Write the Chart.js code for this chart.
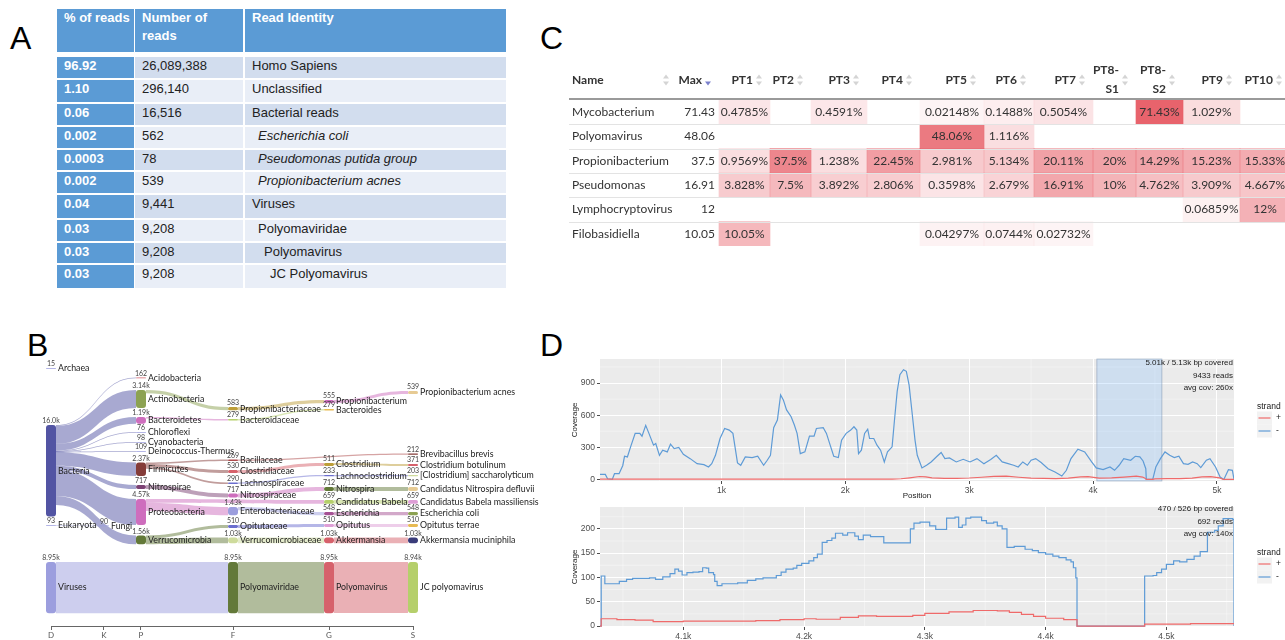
<!DOCTYPE html>
<html>
<head>
<meta charset="utf-8">
<script src="https://cdn.jsdelivr.net/npm/chart.js@4.4.1/dist/chart.umd.min.js"></script>
<style>
  body { margin: 0; background: #fff; }
  #page { position: relative; width: 1285px; height: 640px; overflow: hidden; background: #fff;
          font-family: "Liberation Sans", Arial, sans-serif; }
  .letter { position: absolute; font: 32px/32px "Liberation Sans", Arial, sans-serif; color: #000; }
  .cellA { position: absolute; box-sizing: border-box; font-size: 13px; line-height: 16px;
           padding: 1px 0 0 7px; color: #222; white-space: nowrap; }
  canvas { position: absolute; }
</style>
</head>
<body>
<div id="page">
  <div class="letter" style="left:10px;top:22px">A</div>
  <div class="letter" style="left:27px;top:329px">B</div>
  <div class="letter" style="left:540px;top:22px">C</div>
  <div class="letter" style="left:540px;top:329px">D</div>
  <div id="tableA"></div>
  <canvas id="chartB" width="560" height="285" style="left:0;top:355px"></canvas>
  <canvas id="chartC" width="725" height="200" style="left:560px;top:55px"></canvas>
  <canvas id="chartD1" width="725" height="165" style="left:560px;top:340px"></canvas>
  <canvas id="chartD2" width="725" height="143" style="left:560px;top:497px"></canvas>
</div>
<script>
// ======================================================================
//  DATA
// ======================================================================

// ---- A: read summary ----
const readPct      = ['96.92', '1.10', '0.06', '0.002', '0.0003', '0.002', '0.04', '0.03', '0.03', '0.03'];
const readCount    = ['26,089,388', '296,140', '16,516', '562', '78', '539', '9,441', '9,208', '9,208', '9,208'];
const readIdentity = ['Homo Sapiens', 'Unclassified', 'Bacterial reads', 'Escherichia coli',
                      'Pseudomonas putida group', 'Propionibacterium acnes', 'Viruses',
                      'Polyomaviridae', 'Polyomavirus', 'JC Polyomavirus'];
const identityLevel  = [0, 0, 0, 1, 1, 1, 0, 1, 2, 3];
const identityItalic = [false, false, false, true, true, true, false, false, false, false];
const headersA = ['% of reads', 'Number of<br>reads', 'Read Identity'];

// ---- B: sankey ----
const rankLabels = ['D', 'K', 'P', 'F', 'G', 'S'];
const sankeyNodes = [
  'Archaea', 'Bacteria', 'Eukaryota', 'Fungi',
  'Acidobacteria', 'Actinobacteria', 'Bacteroidetes', 'Chloroflexi', 'Cyanobacteria',
  'Deinococcus-Thermus', 'Firmicutes', 'Nitrospirae', 'Proteobacteria', 'Verrucomicrobia',
  'Propionibacteriaceae', 'Bacteroidaceae', 'Bacillaceae', 'Clostridiaceae', 'Lachnospiraceae',
  'Nitrospiraceae', 'Enterobacteriaceae', 'Opitutaceae', 'Verrucomicrobiaceae',
  'Propionibacterium', 'Bacteroides', 'Clostridium', 'Lachnoclostridium', 'Nitrospira',
  'Candidatus Babela', 'Escherichia', 'Opitutus', 'Akkermansia',
  'Propionibacterium acnes', 'Brevibacillus brevis', 'Clostridium botulinum',
  '[Clostridium] saccharolyticum', 'Candidatus Nitrospira defluvii',
  'Candidatus Babela massiliensis', 'Escherichia coli', 'Opitutus terrae', 'Akkermansia muciniphila',
  'Viruses', 'Polyomaviridae', 'Polyomavirus', 'JC polyomavirus'
];
const sankeyRank = [
  'D', 'D', 'D', 'K',
  'P', 'P', 'P', 'P', 'P', 'P', 'P', 'P', 'P', 'P',
  'F', 'F', 'F', 'F', 'F', 'F', 'F', 'F', 'F',
  'G', 'G', 'G', 'G', 'G', 'G', 'G', 'G', 'G',
  'S', 'S', 'S', 'S', 'S', 'S', 'S', 'S', 'S',
  'D', 'F', 'G', 'S'
];
const sankeyReads = [
  15, 16000, 93, 90,
  162, 3140, 1190, 76, 98, 109, 2370, 717, 4570, 1560,
  583, 279, 269, 530, 290, 717, 1430, 510, 1030,
  555, 279, 511, 233, 712, 659, 548, 510, 1030,
  539, 212, 371, 203, 712, 659, 548, 510, 1030,
  8950, 8950, 8950, 8940
];
const sankeyLinks = [
  ['Bacteria', 'Acidobacteria', 162], ['Bacteria', 'Actinobacteria', 3140],
  ['Bacteria', 'Bacteroidetes', 1190], ['Bacteria', 'Chloroflexi', 76],
  ['Bacteria', 'Cyanobacteria', 98], ['Bacteria', 'Deinococcus-Thermus', 109],
  ['Bacteria', 'Firmicutes', 2370], ['Bacteria', 'Nitrospirae', 717],
  ['Bacteria', 'Proteobacteria', 4570], ['Bacteria', 'Verrucomicrobia', 1560],
  ['Eukaryota', 'Fungi', 90],
  ['Actinobacteria', 'Propionibacteriaceae', 583], ['Bacteroidetes', 'Bacteroidaceae', 279],
  ['Firmicutes', 'Bacillaceae', 269], ['Firmicutes', 'Clostridiaceae', 530],
  ['Firmicutes', 'Lachnospiraceae', 290], ['Nitrospirae', 'Nitrospiraceae', 717],
  ['Proteobacteria', 'Candidatus Babela', 659], ['Proteobacteria', 'Enterobacteriaceae', 1430],
  ['Verrucomicrobia', 'Opitutaceae', 510], ['Verrucomicrobia', 'Verrucomicrobiaceae', 1030],
  ['Propionibacteriaceae', 'Propionibacterium', 555], ['Bacteroidaceae', 'Bacteroides', 279],
  ['Bacillaceae', 'Brevibacillus brevis', 212], ['Clostridiaceae', 'Clostridium', 511],
  ['Lachnospiraceae', 'Lachnoclostridium', 233], ['Nitrospiraceae', 'Nitrospira', 712],
  ['Enterobacteriaceae', 'Escherichia', 548], ['Opitutaceae', 'Opitutus', 510],
  ['Verrucomicrobiaceae', 'Akkermansia', 1030],
  ['Propionibacterium', 'Propionibacterium acnes', 539], ['Clostridium', 'Clostridium botulinum', 371],
  ['Lachnoclostridium', '[Clostridium] saccharolyticum', 203],
  ['Nitrospira', 'Candidatus Nitrospira defluvii', 712],
  ['Candidatus Babela', 'Candidatus Babela massiliensis', 659],
  ['Escherichia', 'Escherichia coli', 548], ['Opitutus', 'Opitutus terrae', 510],
  ['Akkermansia', 'Akkermansia muciniphila', 1030],
  ['Viruses', 'Polyomaviridae', 8950], ['Polyomaviridae', 'Polyomavirus', 8950],
  ['Polyomavirus', 'JC polyomavirus', 8940]
];

// ---- C: heatmap ----
const taxaNames = ['Mycobacterium', 'Polyomavirus', 'Propionibacterium', 'Pseudomonas', 'Lymphocryptovirus', 'Filobasidiella'];
const taxaMax   = [71.43, 48.06, 37.5, 16.91, 12, 10.05];
const sampleNames = ['PT1', 'PT2', 'PT3', 'PT4', 'PT5', 'PT6', 'PT7', 'PT8-S1', 'PT8-S2', 'PT9', 'PT10'];
const mycobacterium     = [0.4785, null, 0.4591, null, 0.02148, 0.1488, 0.5054, null, 71.43, 1.029, null];
const polyomavirus      = [null, null, null, null, 48.06, 1.116, null, null, null, null, null];
const propionibacterium = [0.9569, 37.5, 1.238, 22.45, 2.981, 5.134, 20.11, 20, 14.29, 15.23, 15.33];
const pseudomonas       = [3.828, 7.5, 3.892, 2.806, 0.3598, 2.679, 16.91, 10, 4.762, 3.909, 4.667];
const lymphocryptovirus = [null, null, null, null, null, null, null, null, null, 0.06859, 12];
const filobasidiella    = [10.05, null, null, null, 0.04297, 0.0744, 0.02732, null, null, null, null];
const taxaRows = [mycobacterium, polyomavirus, propionibacterium, pseudomonas, lymphocryptovirus, filobasidiella];

// ---- D: coverage ----
const covAllPosMinus = [20,63,81,119,137,174,204,218,241,267,304,341,359,389,415,452,470,500,526,563,
  589,619,656,693,748,804,859,896,922,952,989,1026,1063,1093,1130,1156,1193,1248,1293,1341,
  1370,1396,1422,1452,1478,1500,1526,1563,1589,1611,1637,1674,1711,1748,1767,1822,1848,1878,1907,1944,
  1970,2007,2044,2070,2093,2107,2130,2156,2181,2196,2230,2256,2285,2315,2341,2378,2396,2419,2441,2470,
  2493,2515,2537,2563,2581,2619,2656,2693,2741,2774,2804,2841,2896,2952,3007,3063,3119,3174,3219,3267,
  3315,3359,3396,3433,3470,3500,3537,3581,3637,3693,3748,3785,3822,3878,3933,3989,4026,4081,4137,4174,
  4211,4248,4304,4341,4378,4404,4426,4430,4482,4507,4544,4581,4619,4656,4693,4730,4767,4804,4841,4870,
  4915,4944,4989,5026,5056,5093,5125,5138];
const covAllMinus = [47,47,6,0,53,53,130,216,210,304,430,430,404,505,430,320,335,225,273,257,
  329,288,298,235,194,147,138,116,147,225,382,476,461,430,154,132,210,204,216,132,
  179,225,483,555,790,743,649,586,508,430,241,257,404,404,476,483,430,320,216,204,
  367,430,461,492,461,241,273,430,470,382,382,320,273,163,257,304,539,822,978,1025,
  1010,884,649,367,225,107,132,163,216,251,194,200,163,188,163,194,147,185,225,163,
  147,132,116,163,132,179,194,157,100,69,31,85,194,282,257,163,107,91,116,85,
  132,194,179,216,210,172,100,0,0,116,194,257,225,204,216,147,141,163,147,110,
  179,194,116,22,0,91,85,0];
const covAllPosPlus = [20,2380,2450,2520,2600,2650,2700,2800,2900,3000,3100,3200,3300,3400,3500,3600,3700,3800,
  3900,3960,4050,4150,4250,4350,4400,4420,4430,4480,4500,4600,4700,4800,4880,4950,5020,5050,5138];
const covAllPlus = [2,2,6,15,27,24,14,10,9,13,20,28,30,20,11,9,8,12,
  24,26,12,14,22,30,22,10,0,0,5,7,8,12,24,25,15,0,0];
const covAllText = ['5.01k / 5.13k bp covered', '9433 reads', 'avg cov: 260x'];

const covZoomPosMinus = [4031,4032,4035,4043,4047,4053,4058,4072,4077,4083,4089,4093,4096,4099,4103,4108,4113,4116,4119,4121,
  4125,4126,4128,4132,4145,4153,4160,4166,4177,4181,4185,4191,4194,4198,4204,4208,4211,4215,4219,4223,
  4226,4232,4236,4242,4245,4249,4255,4266,4288,4291,4296,4304,4309,4318,4325,4328,4331,4334,4338,4347,
  4351,4357,4360,4364,4368,4374,4383,4389,4394,4400,4406,4411,4417,4421,4423,4425,4426,4482,4489,4492,
  4496,4500,4506,4511,4517,4523,4528,4534,4540,4543,4547,4555,4556];
const covZoomMinus = [0,103,87,87,92,96,98,99,96,101,108,117,113,105,110,111,112,120,119,110,
  106,92,83,87,89,94,97,99,104,111,117,119,125,129,134,141,148,172,176,181,
  191,187,192,185,178,187,184,171,200,212,214,206,199,222,224,203,208,222,224,217,
  212,214,206,200,162,164,158,155,151,148,144,141,136,132,120,99,0,103,104,110,
  117,127,134,132,137,144,153,193,197,206,221,219,0];
const covZoomPosPlus = [4031,4032,4045,4060,4075,4100,4130,4160,4180,4200,4210,4230,4245,4260,4290,4300,4320,4340,
  4360,4370,4380,4390,4400,4415,4426,4482,4520,4556];
const covZoomPlus = [0,15,13,12,9,10,10,11,13,15,14,18,21,20,22,26,29,32,
  31,28,24,20,16,13,0,4,5,5];
const covZoomText = ['470 / 526 bp covered', '692 reads', 'avg cov: 140x'];
const covZoomRange = [4031, 4556];

// ======================================================================
//  LAYOUT / STYLE
// ======================================================================
const UI_FONT = 'Lato, "Noto Sans", sans-serif';
const GG_FONT = '"Liberation Sans", Arial, sans-serif';
const RED = '#ef6a6a';
const BLUE = '#5e9bd6';

// A table layout
const A_COLS = [{ x: 57, w: 77 }, { x: 135, w: 108 }, { x: 245, w: 261 }];
const A_HEAD = { top: 9, h: 43 };
const A_ROW_TOP = [57, 80, 104, 127, 150, 172, 195, 220, 243, 265];
const A_ROW_H   = [21, 22, 21, 21, 20, 21, 23, 21, 20, 23];

// B sankey layout: rank positions on the axis and node tops (in reads, from the top of the plot)
const rankPos = [0, 0.1464, 0.2486, 0.5028, 0.768, 1];
const nodeTop = [
  1400, 11375, 28875, 28960,
  3050, 5250, 9975, 12600, 14350, 15925, 17925, 21875, 24325, 30700,
  8225, 10325, 17400, 19250, 21425, 23350, 25725, 28875, 31050,
  7000, 8575, 18025, 20125, 22225, 24500, 26600, 28700, 31050,
  5425, 16350, 18200, 20125, 22225, 24500, 26600, 28700, 31050,
  35350, 35350, 35350, 35350
];
const SANKEY_YMAX = 46550;
const nodeColor = {
  'Archaea': '#9c9ede', 'Bacteria': '#5254a3', 'Eukaryota': '#9c9ede', 'Fungi': '#9c9ede',
  'Acidobacteria': '#d6616b', 'Actinobacteria': '#8ca252', 'Bacteroidetes': '#ce6dbd',
  'Chloroflexi': '#9c9ede', 'Cyanobacteria': '#9c9ede', 'Deinococcus-Thermus': '#9c9ede',
  'Firmicutes': '#843c39', 'Nitrospirae': '#7b4173', 'Proteobacteria': '#ce6dbd', 'Verrucomicrobia': '#637939',
  'Propionibacteriaceae': '#bd9e39', 'Bacteroidaceae': '#b5cf6b', 'Bacillaceae': '#ad494a',
  'Clostridiaceae': '#d6616b', 'Lachnospiraceae': '#6b6ecf', 'Nitrospiraceae': '#ce6dbd',
  'Enterobacteriaceae': '#9c9ede', 'Opitutaceae': '#6b6ecf', 'Verrucomicrobiaceae': '#cedb9c',
  'Propionibacterium': '#ce6dbd', 'Bacteroides': '#e7ba52', 'Clostridium': '#bd9e39',
  'Lachnoclostridium': '#6b6ecf', 'Nitrospira': '#637939', 'Candidatus Babela': '#b5cf6b',
  'Escherichia': '#a55194', 'Opitutus': '#de9ed6', 'Akkermansia': '#d6616b',
  'Propionibacterium acnes': '#e7cb94', 'Brevibacillus brevis': '#843c39', 'Clostridium botulinum': '#d6616b',
  '[Clostridium] saccharolyticum': '#cedb9c', 'Candidatus Nitrospira defluvii': '#e7cb94',
  'Candidatus Babela massiliensis': '#de9ed6', 'Escherichia coli': '#8ca252', 'Opitutus terrae': '#e7ba52',
  'Akkermansia muciniphila': '#393b79',
  'Viruses': '#9c9ede', 'Polyomaviridae': '#637939', 'Polyomavirus': '#d6616b', 'JC polyomavirus': '#b5cf6b'
};

// C table layout: column widths (Name, Max, PT1..PT10)
const C_COL_W = [107, 43, 51, 41, 56, 53, 64, 50, 59, 43, 47, 57, 50];

// ----------------------------------------------------------------------
function rgba(hex, a) {
  const n = parseInt(hex.slice(1), 16);
  return `rgba(${n >> 16},${(n >> 8) & 255},${n & 255},${a})`;
}
function zip(xs, ys) { return xs.map((x, i) => ({ x, y: ys[i] })); }
function fmtReads(v) { return v >= 1000 ? (v / 1000).toPrecision(3) + 'k' : String(v); }

// ======================================================================
//  A : plain table
// ======================================================================
(function drawTableA() {
  const host = document.getElementById('tableA');
  const add = (x, y, w, h, bg, html, extra) => {
    const d = document.createElement('div');
    d.className = 'cellA';
    d.style.cssText += `left:${x}px;top:${y}px;width:${w}px;height:${h}px;background:${bg};` + (extra || '');
    d.innerHTML = html;
    host.appendChild(d);
  };
  headersA.forEach((h, c) =>
    add(A_COLS[c].x, A_HEAD.top, A_COLS[c].w, A_HEAD.h, '#5b9bd5', h,
        'color:#fff;font-weight:bold;line-height:18px;padding-top:0;'));
  readPct.forEach((p, r) => {
    const y = A_ROW_TOP[r], h = A_ROW_H[r];
    const bg = r % 2 === 0 ? '#d2ddee' : '#e9eef7';
    add(A_COLS[0].x, y, A_COLS[0].w, h, '#5b9bd5', p, 'color:#fff;font-weight:bold;');
    add(A_COLS[1].x, y, A_COLS[1].w, h, bg, readCount[r]);
    add(A_COLS[2].x, y, A_COLS[2].w, h, bg, readIdentity[r],
        `padding-left:${7 + identityLevel[r] * 6}px;` + (identityItalic[r] ? 'font-style:italic;' : ''));
  });
})();

// ======================================================================
//  B : sankey (drawn on a scatter chart's scales)
// ======================================================================
const sankeyPlugin = {
  id: 'sankey',
  afterDatasetsDraw(chart) {
    const { ctx } = chart;
    const xs = chart.scales.x, ys = chart.scales.y;
    const NODE_W = 10;
    const idx = {};
    sankeyNodes.forEach((n, i) => idx[n] = i);
    const nodes = sankeyNodes.map((name, i) => {
      const cx = xs.getPixelForValue(rankPos[rankLabels.indexOf(sankeyRank[i])]);
      return { name, reads: sankeyReads[i], top: nodeTop[i], cx, x0: cx - NODE_W / 2, x1: cx + NODE_W / 2, out: [], inn: [] };
    });
    const links = sankeyLinks.map(([s, t, v]) => {
      const l = { s: nodes[idx[s]], t: nodes[idx[t]], v };
      l.s.out.push(l); l.t.inn.push(l);
      return l;
    });
    nodes.forEach(n => {
      let o = 0;
      n.out.sort((a, b) => a.t.top - b.t.top).forEach(l => { l.sy = n.top + o; o += l.v; });
      o = 0;
      n.inn.sort((a, b) => a.s.top - b.s.top).forEach(l => { l.ty = n.top + o; o += l.v; });
    });

    ctx.save();
    // links
    links.forEach(l => {
      const x0 = l.s.x1, x1 = l.t.x0, xm = (x0 + x1) / 2;
      const a0 = ys.getPixelForValue(l.sy), b0 = ys.getPixelForValue(l.ty);
      const w = Math.max(0.8, ys.getPixelForValue(l.sy + l.v) - a0);
      const a1 = a0 + w, b1 = b0 + w;
      ctx.beginPath();
      ctx.moveTo(x0, a0);
      ctx.bezierCurveTo(xm, a0, xm, b0, x1, b0);
      ctx.lineTo(x1, b1);
      ctx.bezierCurveTo(xm, b1, xm, a1, x0, a1);
      ctx.closePath();
      ctx.fillStyle = rgba(nodeColor[l.s.name], 0.5);
      ctx.fill();
    });
    // nodes
    nodes.forEach(n => {
      const y0 = ys.getPixelForValue(n.top);
      const h = Math.max(0.8, ys.getPixelForValue(n.top + n.reads) - y0);
      n.y0 = y0; n.h = h;
      ctx.beginPath();
      ctx.roundRect(n.x0, y0, NODE_W, h, Math.min(3, h / 2));
      ctx.fillStyle = nodeColor[n.name];
      ctx.fill();
    });
    // labels
    nodes.forEach(n => {
      ctx.fillStyle = '#222';
      ctx.font = `8.8px ${UI_FONT}`;
      ctx.textAlign = 'left';
      ctx.textBaseline = 'middle';
      ctx.fillText(n.name, n.x1 + 2, n.y0 + n.h / 2);
      ctx.fillStyle = '#444';
      ctx.font = `7px ${UI_FONT}`;
      ctx.textAlign = 'center';
      ctx.textBaseline = 'bottom';
      ctx.fillText(fmtReads(n.reads), n.cx, n.y0 - 0.5);
    });
    ctx.restore();
  }
};

new Chart(document.getElementById('chartB'), {
  type: 'scatter',
  data: { datasets: [{ data: [] }] },
  options: {
    responsive: false, animation: false, devicePixelRatio: 1,
    layout: { padding: { left: 51, right: 147, top: 5, bottom: 0 } },
    plugins: { legend: { display: false }, tooltip: { enabled: false } },
    scales: {
      x: {
        type: 'linear', min: 0, max: 1, position: 'bottom',
        afterBuildTicks: s => { s.ticks = rankPos.map(v => ({ value: v })); },
        afterFit: s => { s.height = 14; },
        ticks: { callback: (v, i) => rankLabels[i], font: { size: 8, family: UI_FONT }, color: '#555',
                 padding: 1, autoSkip: false, maxRotation: 0 },
        grid: { drawOnChartArea: false, tickLength: 4, color: '#666' },
        border: { color: '#666' }
      },
      y: { type: 'linear', reverse: true, min: 0, max: SANKEY_YMAX, display: false }
    }
  },
  plugins: [sankeyPlugin]
});

// ======================================================================
//  C : heat table (floating bars as cells)
// ======================================================================
const colEdges = [0];
C_COL_W.forEach(w => colEdges.push(colEdges[colEdges.length - 1] + w));
const sampleMax = sampleNames.map((_, s) => Math.max(...taxaRows.map(r => r[s] || 0)));
const globalMax = Math.max(...taxaMax);

function heat(v, colMax) {
  if (v == null) return 'rgba(0,0,0,0)';
  const a = 0.85 * Math.pow(v / colMax, 0.33) * Math.pow(colMax / globalMax, 0.4);
  return `rgba(228,72,82,${a.toFixed(3)})`;
}

const heatDatasets = sampleNames.map((name, s) => ({
  label: name,
  data: taxaRows.map(r => r[s] == null ? null : [colEdges[s + 2], colEdges[s + 3]]),
  backgroundColor: taxaRows.map(r => heat(r[s], sampleMax[s])),
  borderWidth: 0
}));

function sortIcon(ctx, x, y, active) {
  ctx.fillStyle = '#d4d4d4';
  if (!active) {
    ctx.beginPath(); ctx.moveTo(x - 3, y - 1.5); ctx.lineTo(x + 3, y - 1.5); ctx.lineTo(x, y - 5.5); ctx.fill();
  } else {
    ctx.fillStyle = '#7a80cc';
  }
  ctx.beginPath(); ctx.moveTo(x - 3, y + 1.5); ctx.lineTo(x + 3, y + 1.5); ctx.lineTo(x, y + 5.5); ctx.fill();
}

const heatTextPlugin = {
  id: 'heatText',
  afterDatasetsDraw(chart) {
    const { ctx, chartArea: a } = chart;
    const xs = chart.scales.x, ys = chart.scales.y;
    const px = u => xs.getPixelForValue(u);
    ctx.save();
    // row separators
    ctx.strokeStyle = '#e3e3e3'; ctx.lineWidth = 1;
    for (let i = 1; i < taxaNames.length; i++) {
      const y = Math.round((ys.getPixelForValue(i - 1) + ys.getPixelForValue(i)) / 2) + 0.5;
      ctx.beginPath(); ctx.moveTo(a.left, y); ctx.lineTo(a.right, y); ctx.stroke();
    }
    // header rule
    ctx.strokeStyle = '#9a9a9a'; ctx.lineWidth = 2;
    ctx.beginPath(); ctx.moveTo(a.left, a.top - 1); ctx.lineTo(a.right, a.top - 1); ctx.stroke();

    // header
    const hy = a.top - 20;
    ctx.fillStyle = '#333';
    ctx.font = `bold 12px ${UI_FONT}`;
    ctx.textBaseline = 'middle';
    ctx.textAlign = 'left';
    ctx.fillText('Name', px(0) + 3, hy);
    sortIcon(ctx, px(colEdges[1]) - 10, hy, false);
    const heads = ['Max'].concat(sampleNames);
    heads.forEach((h, k) => {
      const right = px(colEdges[k + 2]);
      ctx.fillStyle = '#333';
      ctx.textAlign = 'right';
      const parts = h.includes('-') ? [h.slice(0, h.indexOf('-') + 1), h.slice(h.indexOf('-') + 1)] : [h];
      if (parts.length === 2) {
        ctx.fillText(parts[0], right - 17, hy - 10);
        ctx.fillText(parts[1], right - 17, hy + 9);
      } else {
        ctx.fillText(h, right - 17, hy);
      }
      sortIcon(ctx, right - 11, hy, k === 0);
    });

    // body
    ctx.font = `12px ${UI_FONT}`;
    ctx.fillStyle = '#333';
    taxaNames.forEach((name, i) => {
      const y = ys.getPixelForValue(i);
      ctx.textAlign = 'left';
      ctx.fillText(name, px(0) + 3, y);
      ctx.textAlign = 'right';
      ctx.fillText(String(taxaMax[i]), px(colEdges[2]) - 4, y);
      ctx.textAlign = 'center';
      taxaRows[i].forEach((v, s) => {
        if (v == null) return;
        ctx.fillText(v + '%', px((colEdges[s + 2] + colEdges[s + 3]) / 2), y);
      });
    });
    ctx.restore();
  }
};

new Chart(document.getElementById('chartC'), {
  type: 'bar',
  data: { labels: taxaNames, datasets: heatDatasets },
  options: {
    indexAxis: 'y', responsive: false, animation: false, devicePixelRatio: 1,
    layout: { padding: { left: 9, top: 45, right: 0, bottom: 9 } },
    plugins: { legend: { display: false }, tooltip: { enabled: false } },
    datasets: { bar: { barPercentage: 1, categoryPercentage: 1, grouped: false } },
    scales: {
      x: { type: 'linear', min: 0, max: 716, display: false },
      y: { type: 'category', display: false }
    }
  },
  plugins: [heatTextPlugin]
});

// ======================================================================
//  D : coverage plots, ggplot look
// ======================================================================
function midpoints(min, max, step) {
  const out = [];
  for (let v = Math.floor(min / step) * step + step / 2; v < max; v += step) if (v > min) out.push(v);
  return out;
}
// ticks at every multiple of step inside the axis range
function stepTicks(step) {
  return s => {
    const out = [];
    for (let v = Math.ceil(s.min / step) * step; v <= s.max + 1e-9; v += step) out.push({ value: v });
    s.ticks = out;
  };
}

function ggPlugin(o) {
  return {
    id: 'gg',
    beforeDraw(chart) {
      const { ctx, chartArea: a } = chart;
      const xs = chart.scales.x, ys = chart.scales.y;
      ctx.save();
      ctx.fillStyle = '#ebebeb';
      ctx.fillRect(a.left, a.top, a.right - a.left, a.bottom - a.top);
      ctx.strokeStyle = 'rgba(255,255,255,0.6)';
      ctx.lineWidth = 0.6;
      midpoints(xs.min, xs.max, o.xStep).forEach(v => {
        const p = xs.getPixelForValue(v);
        ctx.beginPath(); ctx.moveTo(p, a.top); ctx.lineTo(p, a.bottom); ctx.stroke();
      });
      midpoints(ys.min, ys.max, o.yStep).forEach(v => {
        const p = ys.getPixelForValue(v);
        ctx.beginPath(); ctx.moveTo(a.left, p); ctx.lineTo(a.right, p); ctx.stroke();
      });
      ctx.restore();
    },
    beforeDatasetsDraw(chart) {
      if (!o.band) return;
      const { ctx, chartArea: a } = chart;
      const xs = chart.scales.x;
      const x0 = xs.getPixelForValue(o.band[0]), x1 = xs.getPixelForValue(o.band[1]);
      ctx.save();
      ctx.fillStyle = 'rgba(90,170,255,0.2)';
      ctx.fillRect(x0, a.top, x1 - x0, a.bottom - a.top);
      ctx.strokeStyle = 'rgba(110,135,165,0.55)';
      ctx.lineWidth = 0.8;
      ctx.strokeRect(x0, a.top, x1 - x0, a.bottom - a.top);
      ctx.restore();
    },
    afterDraw(chart) {
      const { ctx, chartArea: a } = chart;
      ctx.save();
      ctx.fillStyle = '#1a1a1a';
      ctx.font = `8px ${GG_FONT}`;
      ctx.textAlign = 'right';
      ctx.textBaseline = 'middle';
      o.text.forEach((t, i) => ctx.fillText(t, a.right - 1, a.top + o.textTop + i * 12.5));
      // axis titles
      ctx.textAlign = 'center';
      ctx.font = `8px ${GG_FONT}`;
      ctx.save();
      ctx.translate(15, (a.top + a.bottom) / 2);
      ctx.rotate(-Math.PI / 2);
      ctx.fillText('Coverage', 0, 0);
      ctx.restore();
      if (o.xTitle) ctx.fillText(o.xTitle, (a.left + a.right) / 2, a.bottom + 15);
      // legend
      const lx = a.right + 23;
      ctx.textAlign = 'left';
      ctx.font = `8.5px ${GG_FONT}`;
      ctx.fillText('strand', lx, o.legendTop);
      chart.data.datasets.forEach((ds, i) => {
        const ky = o.legendTop + 11 + i * 13;
        ctx.fillStyle = '#f2f2f2';
        ctx.fillRect(lx, ky - 6.5, 15, 13);
        ctx.strokeStyle = ds.borderColor;
        ctx.lineWidth = 1.2;
        ctx.beginPath(); ctx.moveTo(lx + 1.5, ky); ctx.lineTo(lx + 13.5, ky); ctx.stroke();
        ctx.fillStyle = '#1a1a1a';
        ctx.fillText(ds.label, lx + 19, ky);
      });
      ctx.restore();
    }
  };
}

function ggScales(xr, yr, xStep, yStep, xFmt, xAxisH) {
  const tick = { font: { size: 8.5, family: GG_FONT }, color: '#4d4d4d', padding: 2, maxRotation: 0, autoSkip: false };
  const grid = { color: '#ffffff', lineWidth: 1, tickColor: '#4d4d4d', tickLength: 3 };
  return {
    x: { type: 'linear', min: xr[0], max: xr[1], afterFit: s => { s.height = xAxisH; },
         afterBuildTicks: stepTicks(xStep),
         ticks: Object.assign({ callback: xFmt }, tick), grid, border: { display: false } },
    y: { type: 'linear', min: yr[0], max: yr[1], afterFit: s => { s.width = 40; },
         afterBuildTicks: stepTicks(yStep),
         ticks: Object.assign({}, tick), grid, border: { display: false } }
  };
}

function lineDs(label, xs, ys, color, stepped) {
  return { label, data: zip(xs, ys), borderColor: color, borderWidth: 1.2, pointRadius: 0,
           tension: 0, fill: false, stepped: stepped ? 'before' : false };
}

new Chart(document.getElementById('chartD1'), {
  type: 'line',
  data: { datasets: [
    lineDs('+', covAllPosPlus, covAllPlus, RED, false),
    lineDs('-', covAllPosMinus, covAllMinus, BLUE, false)
  ] },
  options: {
    responsive: false, animation: false, devicePixelRatio: 1,
    layout: { padding: { top: 19, right: 51, left: 0, bottom: 0 } },
    plugins: { legend: { display: false }, tooltip: { enabled: false } },
    scales: ggScales([20, 5138], [-15, 1125], 1000, 300, v => v / 1000 + 'k', 24)
  },
  plugins: [ggPlugin({ xStep: 1000, yStep: 300, band: covZoomRange, text: covAllText, textTop: 4,
                       xTitle: 'Position', legendTop: 67 })]
});

new Chart(document.getElementById('chartD2'), {
  type: 'line',
  data: { datasets: [
    lineDs('+', covZoomPosPlus, covZoomPlus, RED, true),
    lineDs('-', covZoomPosMinus, covZoomMinus, BLUE, true)
  ] },
  options: {
    responsive: false, animation: false, devicePixelRatio: 1,
    layout: { padding: { top: 10, right: 51, left: 0, bottom: 0 } },
    plugins: { legend: { display: false }, tooltip: { enabled: false } },
    scales: ggScales(covZoomRange, [-2, 245], 100, 50, v => (v / 1000).toFixed(1) + 'k', 13)
  },
  plugins: [ggPlugin({ xStep: 100, yStep: 50, text: covZoomText, textTop: 2, legendTop: 56 })]
});
</script>
</body>
</html>
